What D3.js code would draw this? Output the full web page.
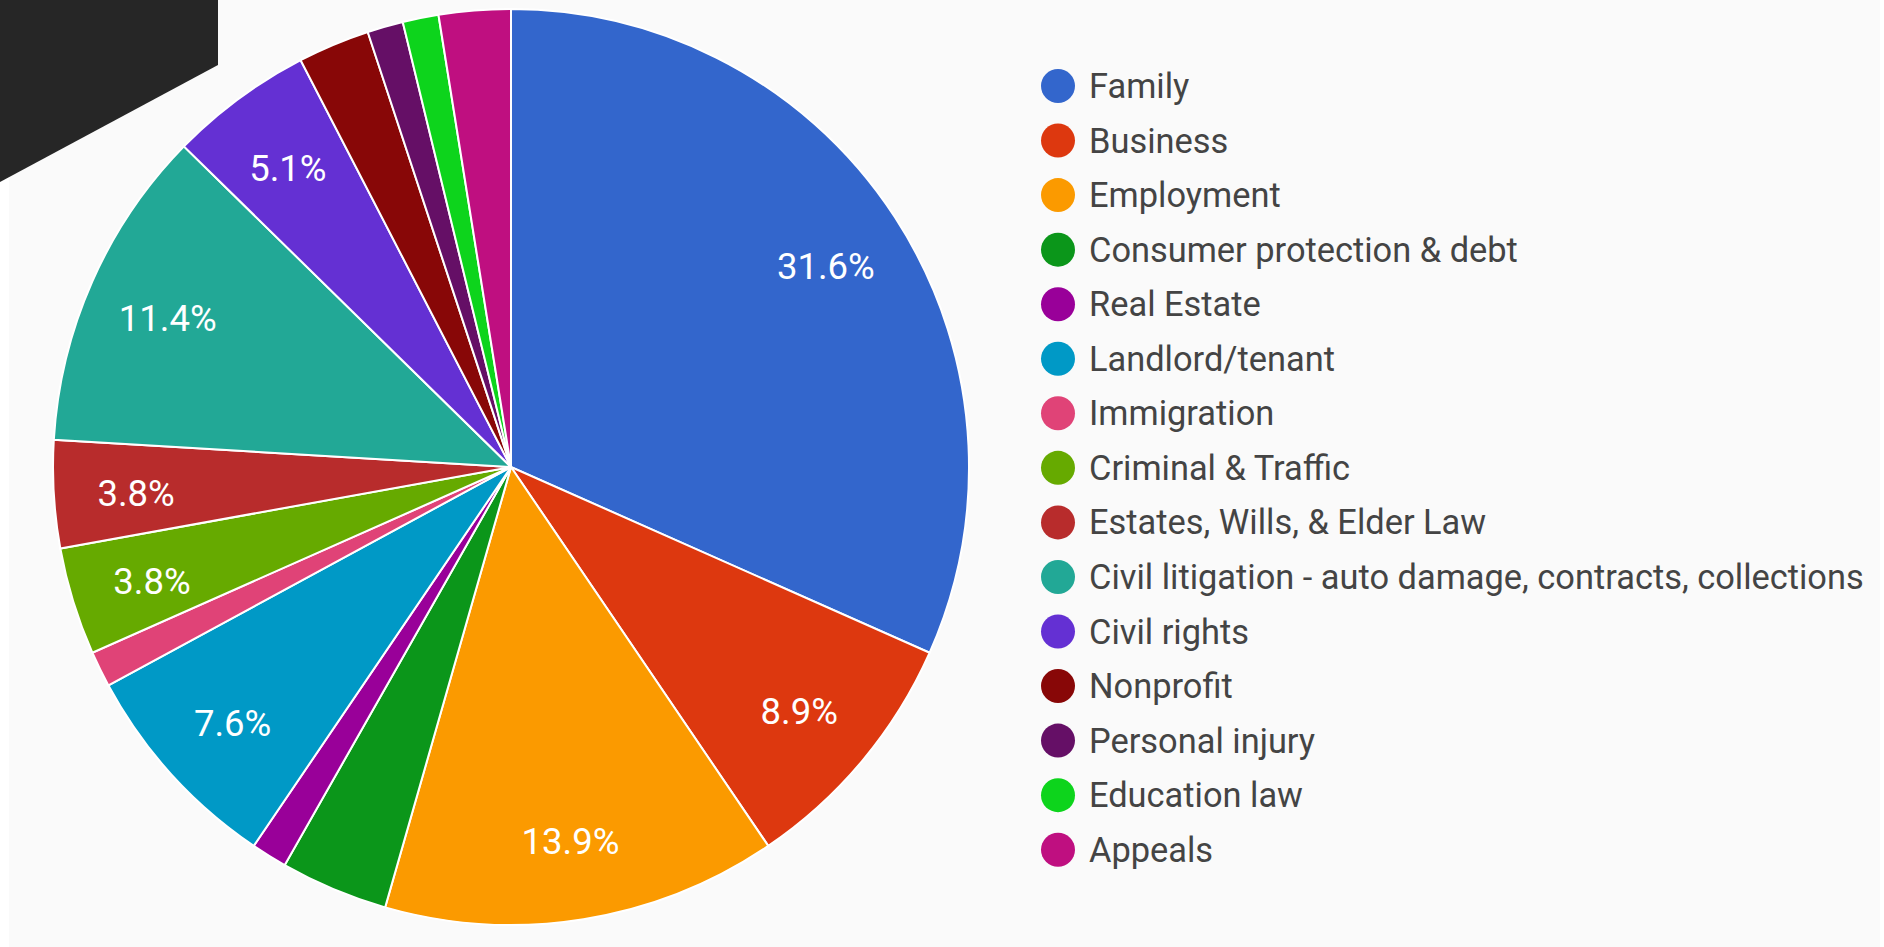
<!DOCTYPE html>
<html lang="en">
<head>
    <meta charset="UTF-8" />
    <title>Cases by practice area</title>
    <script src="https://d3js.org/d3.v7.min.js"></script>
    <style>
        body {
            margin: 0;
            background: #ffffff;
            font-family: Roboto, "Noto Sans", Arial, sans-serif;
        }

        .slice {
            stroke: #ffffff;
            stroke-width: 2;
        }

        .slice-label {
            fill: #ffffff;
            font-size: 36.5px;
            text-anchor: middle;
            dominant-baseline: central;
        }

        .legend-label {
            fill: #444444;
            font-size: 34.4px;
            dominant-baseline: central;
        }
    </style>
</head>

<body>
    <div id="chart"></div>

    <script>
        // practice areas, in pie order (clockwise from 12 o'clock)
        var categories = [
            "Family", "Business", "Employment", "Consumer protection & debt",
            "Real Estate", "Landlord/tenant", "Immigration", "Criminal & Traffic",
            "Estates, Wills, & Elder Law",
            "Civil litigation - auto damage, contracts, collections",
            "Civil rights", "Nonprofit", "Personal injury", "Education law", "Appeals"
        ];

        var counts = [25, 7, 11, 3, 1, 6, 1, 3, 3, 9, 4, 2, 1, 1, 2];

        var colors = [
            "#3366cc", "#dd380f", "#fb9a00", "#0b961a", "#990099",
            "#0099c6", "#e04377", "#66aa00", "#b82c2c", "#22a896",
            "#6430d3", "#880707", "#650f66", "#0dd41c", "#bf0f80"
        ];

        function init() {
            var w = 1884;
            var h = 947;
            var cx = 511, cy = 467, radius = 458;

            var dataset = categories.map(function(c, i) {
                return { name: c, value: counts[i], color: colors[i] };
            });
            var total = d3.sum(counts);

            var svg = d3.select("#chart")
                .append("svg")
                .attr("width", w)
                .attr("height", h);

            // chart background
            svg.append("rect")
                .attr("x", 9)
                .attr("y", 0)
                .attr("width", 1871)
                .attr("height", h)
                .attr("fill", "#fafafa");

            var g = svg.append("g")
                .attr("transform", "translate(" + cx + "," + cy + ")");

            var pie = d3.pie()
                .value(function(d) { return d.value; })
                .sort(null);

            var arc = d3.arc()
                .innerRadius(0)
                .outerRadius(radius);

            var arcs = pie(dataset);

            g.selectAll("path.slice")
                .data(arcs)
                .enter()
                .append("path")
                .attr("class", "slice")
                .attr("fill", function(d) { return d.data.color; })
                .attr("d", arc);

            // percentage labels, kept only where they fit inside the slice
            var labelR = radius * 0.82;
            var pad = 12;
            arcs.forEach(function(d) {
                var mid = (d.startAngle + d.endAngle) / 2;
                var x = labelR * Math.sin(mid);
                var y = -labelR * Math.cos(mid) + 4;
                var txt = g.append("text")
                    .attr("class", "slice-label")
                    .attr("x", x)
                    .attr("y", y)
                    .text(d3.format(".1f")(d.data.value / total * 100) + "%");

                var hw = txt.node().getComputedTextLength() / 2;
                var hh = 13;
                var corners = [[x - hw, y - hh], [x + hw, y - hh], [x - hw, y + hh], [x + hw, y + hh]];
                var fits = corners.every(function(p) {
                    var ok = true;
                    [d.startAngle, d.endAngle].forEach(function(a, k) {
                        var dx = Math.sin(a), dy = -Math.cos(a);
                        var cross = p[0] * dy - p[1] * dx;
                        // positive side for start edge, negative for end edge
                        var dist = k === 0 ? -cross : cross;
                        if (dist < pad) ok = false;
                    });
                    if (Math.hypot(p[0], p[1]) > radius - 4) ok = false;
                    return ok;
                });
                if (!fits) txt.remove();
            });

            // legend
            var legend = svg.append("g")
                .attr("transform", "translate(1058,86)");

            var rows = legend.selectAll("g.row")
                .data(dataset)
                .enter()
                .append("g")
                .attr("class", "row")
                .attr("transform", function(d, i) { return "translate(0," + (i * 54.55) + ")"; });

            rows.append("circle")
                .attr("r", 17)
                .attr("fill", function(d) { return d.color; });

            rows.append("text")
                .attr("class", "legend-label")
                .attr("x", 31)
                .attr("y", 0)
                .text(function(d) { return d.name; });

            // dark corner banner at top left
            svg.append("polygon")
                .attr("points", "0,0 218,0 218,65 0,182")
                .attr("fill", "#262626");
        }

        init();
    </script>
</body>
</html>
